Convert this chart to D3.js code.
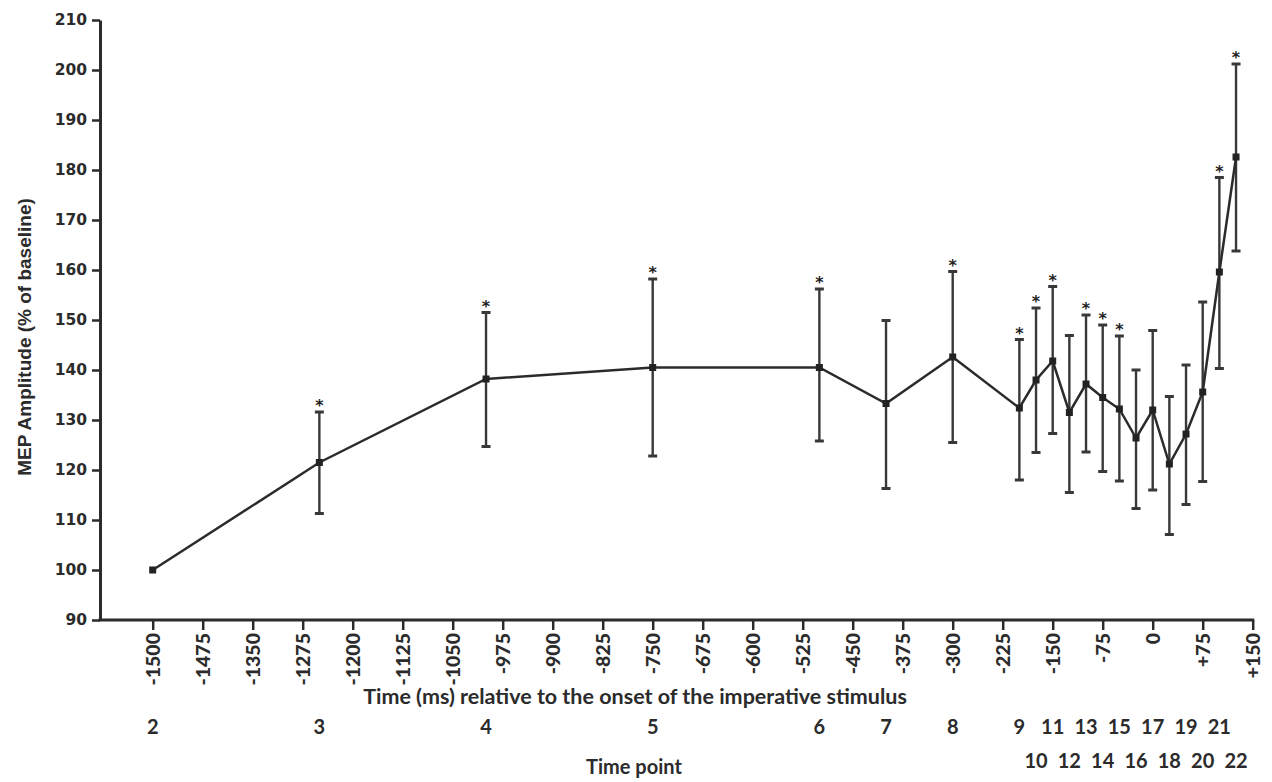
<!DOCTYPE html>
<html>
<head>
<meta charset="utf-8">
<script src="https://cdn.jsdelivr.net/npm/d3@7/dist/d3.min.js"></script>
<style>
  html, body { margin: 0; padding: 0; background: #fff; }
  svg { display: block; }
</style>
</head>
<body>
<svg id="chart" width="1272" height="782"></svg>
<script>
// Time of each measurement relative to the imperative stimulus (ms)
const times = [-1500, -1250, -1000, -750, -500, -400, -300, -200, -175, -150, -125,
               -100, -75, -50, -25, 0, 25, 50, 75, 100, 125];
// Time point numbers shown under the axis
const timePoints = [2, 3, 4, 5, 6, 7, 8, 9, 10, 11, 12, 13, 14, 15, 16, 17, 18, 19, 20, 21, 22];
// Mean MEP amplitude (% of baseline)
const means = [100, 121.5, 138.2, 140.5, 140.5, 133.3, 142.6, 132.4, 138.0, 141.8, 131.5,
               137.2, 134.5, 132.2, 126.4, 132.0, 121.2, 127.2, 135.6, 159.6, 182.6];
// Upper and lower ends of the error bars
const upper = [null, 131.6, 151.5, 158.2, 156.2, 149.9, 159.7, 146.1, 152.4, 156.7, 146.9,
               151.0, 149.0, 146.8, 140.0, 147.9, 134.7, 141.0, 153.6, 178.5, 201.2];
const lower = [null, 111.3, 124.7, 122.8, 125.8, 116.3, 125.5, 118.0, 123.5, 127.3, 115.5,
               123.6, 119.7, 117.8, 112.3, 116.0, 107.1, 113.1, 117.7, 140.3, 163.8];
// Significant difference from baseline (asterisk)
const significant = [false, true, true, true, true, false, true, true, true, true, false,
                     true, true, true, false, false, false, false, false, true, true];
// Axis tick labels
const xTickLabels = ["-1500", "-1475", "-1350", "-1275", "-1200", "-1125", "-1050", "-975",
                     "-900", "-825", "-750", "-675", "-600", "-525", "-450", "-375", "-300",
                     "-225", "-150", "-75", "0", "+75", "+150"];
const yTicks = [90, 100, 110, 120, 130, 140, 150, 160, 170, 180, 190, 200, 210];

const ink = "#2b2b2b";
const svg = d3.select("#chart");
svg.append("rect").attr("width", 1272).attr("height", 782).attr("fill", "#fff");

const axisX = 100, axisY = 620;
const x = d3.scaleLinear().domain([-1500, 150]).range([152.7, 1252.7]);
const y = d3.scaleLinear().domain([90, 210]).range([620, 20]);

// Y axis
const gy = svg.append("g").attr("transform", `translate(${axisX},0)`)
  .call(d3.axisLeft(y).tickValues(yTicks).tickSize(8).tickSizeOuter(0).tickPadding(5));
gy.select(".domain").attr("stroke", ink).attr("stroke-width", 3);
gy.selectAll(".tick line").attr("stroke", ink).attr("stroke-width", 2.5);
gy.selectAll(".tick text")
  .attr("fill", ink)
  .style("font-family", "'DejaVu Sans', sans-serif")
  .style("font-weight", "bold")
  .style("font-size", "15.5px");

// X axis
const xTickValues = d3.range(xTickLabels.length).map(i => -1500 + 75 * i);
const gx = svg.append("g").attr("transform", `translate(0,${axisY})`)
  .call(d3.axisBottom(x).tickValues(xTickValues)
        .tickFormat((d, i) => xTickLabels[i]).tickSize(10).tickSizeOuter(0));
gx.select(".domain").remove();
gx.append("line").attr("x1", axisX - 1.5).attr("x2", x(150) + 1.5)
  .attr("y1", 0).attr("y2", 0).attr("stroke", ink).attr("stroke-width", 3);
gx.selectAll(".tick line").attr("stroke", ink).attr("stroke-width", 2.5);
gx.selectAll(".tick text")
  .attr("fill", ink)
  .attr("transform", "rotate(-90)")
  .attr("x", -13).attr("y", 0).attr("dy", "0.36em")
  .attr("text-anchor", "end")
  .style("font-family", "Lato, sans-serif")
  .style("font-weight", "900")
  .style("font-size", "19.5px");

// Axis titles
svg.append("text")
  .attr("transform", "translate(31,337) rotate(-90)")
  .attr("text-anchor", "middle")
  .attr("fill", ink)
  .style("font-family", "'Liberation Sans', Arial, sans-serif")
  .style("font-weight", "bold")
  .style("font-size", "19px")
  .text("MEP Amplitude (% of baseline)");

svg.append("text")
  .attr("x", 635).attr("y", 704)
  .attr("text-anchor", "middle")
  .attr("fill", ink)
  .style("font-family", "Lato, sans-serif")
  .style("font-weight", "bold")
  .style("font-size", "21.5px")
  .text("Time (ms) relative to the onset of the imperative stimulus");

// Time point numbers (odd ones on top row near the end of the axis, even ones below)
svg.append("g").selectAll("text")
  .data(timePoints)
  .join("text")
  .attr("x", (d, i) => x(times[i]))
  .attr("y", d => (d >= 10 && d % 2 === 0) ? 768 : 734)
  .attr("text-anchor", "middle")
  .attr("fill", ink)
  .style("font-family", "Lato, sans-serif")
  .style("font-weight", "bold")
  .style("font-size", "20px")
  .text(d => d);

svg.append("text")
  .attr("x", 634).attr("y", 774)
  .attr("text-anchor", "middle")
  .attr("fill", ink)
  .style("font-family", "Lato, sans-serif")
  .style("font-weight", "bold")
  .style("font-size", "20px")
  .text("Time point");

// Data
const pts = times.map((t, i) => ({
  t, m: means[i], hi: upper[i], lo: lower[i], sig: significant[i]
}));

// Error bars
const bars = svg.append("g").attr("stroke", "#383838").attr("stroke-width", 2.4);
pts.filter(p => p.hi != null).forEach(p => {
  const cx = x(p.t);
  bars.append("line").attr("x1", cx).attr("x2", cx).attr("y1", y(p.hi)).attr("y2", y(p.lo));
  bars.append("line").attr("x1", cx - 4.5).attr("x2", cx + 4.5).attr("y1", y(p.hi)).attr("y2", y(p.hi)).attr("stroke-width", 3);
  bars.append("line").attr("x1", cx - 4.5).attr("x2", cx + 4.5).attr("y1", y(p.lo)).attr("y2", y(p.lo)).attr("stroke-width", 3);
});

// Mean line
svg.append("path")
  .datum(pts)
  .attr("fill", "none")
  .attr("stroke", ink)
  .attr("stroke-width", 2.5)
  .attr("d", d3.line().x(p => x(p.t)).y(p => y(p.m)));

// Markers
svg.append("g").selectAll("rect")
  .data(pts)
  .join("rect")
  .attr("x", p => x(p.t) - 3.5)
  .attr("y", p => y(p.m) - 3.5)
  .attr("width", 7).attr("height", 7)
  .attr("fill", "#222");

// Significance asterisks
svg.append("g").selectAll("text")
  .data(pts.filter(p => p.sig))
  .join("text")
  .attr("x", p => x(p.t))
  .attr("y", p => y(p.hi) - 10 + 9)
  .attr("text-anchor", "middle")
  .attr("fill", "#222")
  .style("font-family", "'DejaVu Sans', sans-serif")
  .style("font-weight", "bold")
  .style("font-size", "16px")
  .text("*");
</script>
</body>
</html>
